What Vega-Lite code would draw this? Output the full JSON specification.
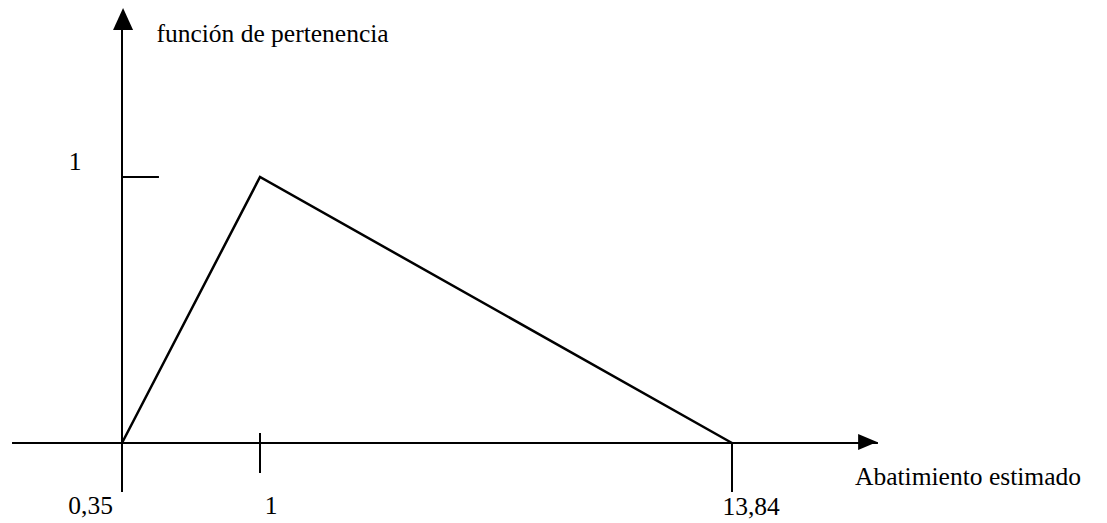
{
  "$schema": "https://vega.github.io/schema/vega-lite/v6.json",
  "width": 1107,
  "height": 523,
  "autosize": {"type": "none"},
  "padding": 0,
  "background": "white",
  "config": {"view": {"stroke": null}},
  "datasets": {
    "curve": [
      {"x": 0.35, "y": 0},
      {"x": 1, "y": 1},
      {"x": 13.84, "y": 0}
    ],
    "rules": [
      {"name": "x-axis", "x": -0.168, "x2": 17.81, "y": 0, "y2": 0},
      {"name": "y-axis", "x": 0.35, "x2": 0.35, "y": -0.184, "y2": 1.6},
      {"name": "tick-y1", "x": 0.35, "x2": 0.524, "y": 1, "y2": 1},
      {"name": "tick-x1", "x": 1, "x2": 1, "y": 0.038, "y2": -0.113},
      {"name": "tick-x13", "x": 13.84, "x2": 13.84, "y": 0, "y2": -0.184}
    ],
    "arrows": [
      {"name": "right", "x": 17.53, "y": 0.004},
      {"name": "up", "x": 0.355, "y": 1.594}
    ],
    "labels": [
      {"text": "función de pertenencia", "x": 1.34, "y": 1.508},
      {"text": "1", "x": 0.129, "y": 1.026},
      {"text": "0,35", "x": 0.202, "y": -0.268},
      {"text": "1", "x": 1.3, "y": -0.268},
      {"text": "13,84", "x": 14.36, "y": -0.272},
      {"text": "Abatimiento estimado", "x": 20.26, "y": -0.158}
    ]
  },
  "layer": [
    {
      "data": {"name": "rules"},
      "mark": {"type": "rule", "color": "black", "strokeWidth": 2},
      "encoding": {
        "x": {"field": "x", "type": "quantitative", "axis": null, "scale": {"domain": [0.35, 1, 13.84], "range": [122, 260, 732], "nice": false, "zero": false}},
        "x2": {"field": "x2"},
        "y": {"field": "y", "type": "quantitative", "axis": null, "scale": {"domain": [0, 1], "range": [443, 177], "nice": false, "zero": false}},
        "y2": {"field": "y2"}
      }
    },
    {
      "data": {"name": "curve"},
      "mark": {"type": "line", "color": "black", "strokeWidth": 2.5},
      "encoding": {
        "x": {"field": "x", "type": "quantitative", "axis": null, "scale": {"domain": [0.35, 1, 13.84], "range": [122, 260, 732], "nice": false, "zero": false}},
        "y": {"field": "y", "type": "quantitative", "axis": null, "scale": {"domain": [0, 1], "range": [443, 177], "nice": false, "zero": false}}
      }
    },
    {
      "data": {"name": "arrows"},
      "transform": [{"filter": "datum.name === 'right'"}],
      "mark": {"type": "point", "filled": true, "color": "black", "opacity": 1, "size": 361, "shape": "M1,0L-1,-0.84L-1,0.84Z"},
      "encoding": {
        "x": {"field": "x", "type": "quantitative", "axis": null, "scale": {"domain": [0.35, 1, 13.84], "range": [122, 260, 732], "nice": false, "zero": false}},
        "y": {"field": "y", "type": "quantitative", "axis": null, "scale": {"domain": [0, 1], "range": [443, 177], "nice": false, "zero": false}}
      }
    },
    {
      "data": {"name": "arrows"},
      "transform": [{"filter": "datum.name === 'up'"}],
      "mark": {"type": "point", "filled": true, "color": "black", "opacity": 1, "size": 484, "shape": "M0,-1L0.91,1L-0.91,1Z"},
      "encoding": {
        "x": {"field": "x", "type": "quantitative", "axis": null, "scale": {"domain": [0.35, 1, 13.84], "range": [122, 260, 732], "nice": false, "zero": false}},
        "y": {"field": "y", "type": "quantitative", "axis": null, "scale": {"domain": [0, 1], "range": [443, 177], "nice": false, "zero": false}}
      }
    },
    {
      "data": {"name": "labels"},
      "mark": {"type": "text", "font": "Liberation Serif", "fontSize": 25.5, "color": "black", "align": "center", "baseline": "alphabetic"},
      "encoding": {
        "x": {"field": "x", "type": "quantitative", "axis": null, "scale": {"domain": [0.35, 1, 13.84], "range": [122, 260, 732], "nice": false, "zero": false}},
        "y": {"field": "y", "type": "quantitative", "axis": null, "scale": {"domain": [0, 1], "range": [443, 177], "nice": false, "zero": false}},
        "text": {"field": "text"}
      }
    }
  ]
}
